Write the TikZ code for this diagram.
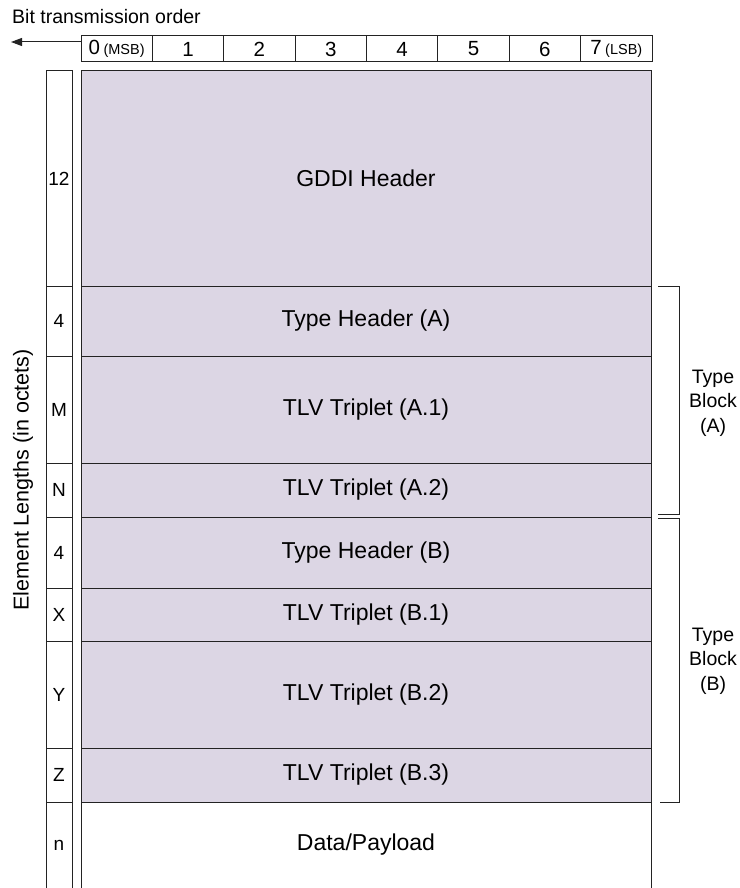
\documentclass[tikz,border=0pt]{standalone}
\usepackage{fontspec}
\setmainfont{Liberation Sans}
\usetikzlibrary{arrows.meta}
\definecolor{fieldfill}{RGB}{220,214,228}
\definecolor{rulecol}{RGB}{35,35,35}
\begin{document}
\begin{tikzpicture}[x=1pt,y=-1pt,
  field/.style={draw=rulecol, line width=1pt, fill=fieldfill, minimum width=570pt,
    inner sep=0pt, font=\fontsize{23}{27}\selectfont},
  lenbox/.style={draw=rulecol, line width=1pt, fill=white, minimum width=26pt,
    inner sep=0pt, font=\fontsize{19}{22}\selectfont},
  bitcell/.style={draw=rulecol, line width=1pt, fill=white, minimum width=71.375pt,
    minimum height=26pt, inner sep=0pt, font=\fontsize{20.5}{24}\selectfont},
  bracket/.style={draw=rulecol, line width=1pt},
  sidetext/.style={align=center, font=\fontsize{19.5}{24.5}\selectfont}
]
\useasboundingbox (0,0) rectangle (739,888);

% title and transmission direction
\node[anchor=base west, inner sep=0pt, font=\fontsize{19.5}{23}\selectfont] (title) at (12,24) {Bit transmission order};

% bit numbering row
\node[bitcell] (bit0) at (116.69,49) {0\,{\fontsize{14.5}{16}\selectfont(MSB)}};
\node[bitcell] (bit1) at (188.06,49) {1};
\node[bitcell] (bit2) at (259.44,49) {2};
\node[bitcell] (bit3) at (330.81,49) {3};
\node[bitcell] (bit4) at (402.19,49) {4};
\node[bitcell] (bit5) at (473.56,49) {5};
\node[bitcell] (bit6) at (544.94,49) {6};
\node[bitcell] (bit7) at (616.31,49) {7\,{\fontsize{14.5}{16}\selectfont(LSB)}};

\coordinate (arrowstart) at (81,42);
\coordinate (arrowend) at (11,42);
\draw[line width=1pt, rulecol, -{Triangle[length=11pt,width=8pt]}] (arrowstart) -- (arrowend);

% message fields
\node[field, minimum height=215pt] (gddi) at (366,178.5) {GDDI Header};
\node[field, minimum height=70pt]  (thA)  at (366,321)   {Type Header (A)};
\node[field, minimum height=107pt] (tA1)  at (366,409.5) {TLV Triplet (A.1)};
\node[field, minimum height=54pt]  (tA2)  at (366,490)   {TLV Triplet (A.2)};
\node[field, minimum height=71pt]  (thB)  at (366,552.5) {Type Header (B)};
\node[field, minimum height=53pt]  (tB1)  at (366,614.5) {TLV Triplet (B.1)};
\node[field, minimum height=107pt] (tB2)  at (366,694.5) {TLV Triplet (B.2)};
\node[field, minimum height=54pt]  (tB3)  at (366,775)   {TLV Triplet (B.3)};
% payload continues past the lower edge
\draw[rulecol, line width=1pt] (81,888) -- (81,802) -- (651,802) -- (651,888);
\node[font=\fontsize{23}{27}\selectfont] (data) at (366,845) {Data/Payload};

% element lengths column
\node[lenbox, minimum height=215pt] (lgddi) at (59,178.5) {12};
\node[lenbox, minimum height=70pt]  (lthA)  at (59,321)   {4};
\node[lenbox, minimum height=107pt] (ltA1)  at (59,409.5) {M};
\node[lenbox, minimum height=54pt]  (ltA2)  at (59,490)   {N};
\node[lenbox, minimum height=71pt]  (lthB)  at (59,552.5) {4};
\node[lenbox, minimum height=53pt]  (ltB1)  at (59,614.5) {X};
\node[lenbox, minimum height=107pt] (ltB2)  at (59,694.5) {Y};
\node[lenbox, minimum height=54pt]  (ltB3)  at (59,775)   {Z};
\draw[rulecol, line width=1pt] (46,888) -- (46,802) -- (72,802) -- (72,888);
\node[font=\fontsize{19}{22}\selectfont] (ldata) at (59,845) {n};

\node[rotate=90, font=\fontsize{21.5}{25}\selectfont] (lenlabel) at (23,480) {Element Lengths (in octets)};

% type block brackets
\coordinate (bAtop) at (658,286);
\coordinate (bAbot) at (658,514);
\draw[bracket] (bAtop) -- (679,286) -- (679,514) -- (bAbot);
\node[sidetext] (blockA) at (713,403) {Type\\Block\\(A)};

\coordinate (bBtop) at (658,518);
\coordinate (bBbot) at (660,802);
\draw[bracket] (bBtop) -- (679,518) -- (679,802) -- (bBbot);
\node[sidetext] (blockB) at (713,661) {Type\\Block\\(B)};
\end{tikzpicture}
\end{document}
